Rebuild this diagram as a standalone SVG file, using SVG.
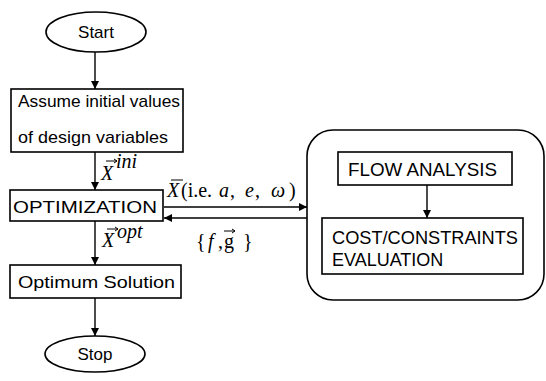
<svg xmlns="http://www.w3.org/2000/svg" width="546" height="381" viewBox="0 0 546 381">
<style>
.s{fill:none;stroke:#000;stroke-width:1.6}
.t{font-family:"Liberation Sans",Arial,sans-serif;font-size:17px;fill:#000}
.r{font-family:"Liberation Sans",Arial,sans-serif;font-size:18px;fill:#000}
.m{font-family:"Liberation Serif","Times New Roman",serif;font-size:20px;fill:#000}
.i{font-style:italic}
.c{stroke:#000;stroke-width:1.4;fill:none}
.v{stroke:#000;stroke-width:1;fill:none}
</style>
<defs>
<marker id="ah" viewBox="0 0 10 10" refX="10" refY="5" markerWidth="9" markerHeight="8" markerUnits="userSpaceOnUse" orient="auto">
<path d="M0,0 L10,5 L0,10 z" fill="#000"/>
</marker>
</defs>
<rect width="546" height="381" fill="#fff"/>
<g id="start">
<ellipse class="s" cx="96" cy="32" rx="50" ry="20"/>
<text class="t" x="96" y="38" text-anchor="middle">Start</text>
</g>
<g id="assume">
<rect class="s" x="11" y="89" width="172" height="63"/>
<text class="t" x="18" y="107" textLength="162" lengthAdjust="spacingAndGlyphs">Assume initial values</text>
<text class="t" x="18" y="143" textLength="150" lengthAdjust="spacingAndGlyphs">of design variables</text>
</g>
<g id="optimization">
<rect class="s" x="10" y="190" width="153" height="31"/>
<text class="t" x="13" y="213" textLength="144" lengthAdjust="spacingAndGlyphs">OPTIMIZATION</text>
</g>
<g id="optimum">
<rect class="s" x="10" y="265" width="171" height="33"/>
<text class="t" x="18" y="288" textLength="157" lengthAdjust="spacingAndGlyphs">Optimum Solution</text>
</g>
<g id="stop">
<ellipse class="s" cx="95" cy="354" rx="50" ry="18"/>
<text class="t" x="95" y="360" text-anchor="middle">Stop</text>
</g>
<g id="analysis">
<rect class="s" x="307" y="130" width="237" height="170" rx="26" ry="26"/>
<g id="flow">
<rect class="s" x="338" y="152" width="174" height="33"/>
<text class="r" x="348" y="176" textLength="149" lengthAdjust="spacingAndGlyphs">FLOW ANALYSIS</text>
</g>
<g id="cost">
<rect class="s" x="322" y="218" width="201" height="56"/>
<text class="r" x="332" y="244" textLength="186" lengthAdjust="spacingAndGlyphs">COST/CONSTRAINTS</text>
<text class="r" x="332" y="266">EVALUATION</text>
</g>
</g>
<g id="connectors">
<line class="c" x1="95" y1="52" x2="95" y2="89" marker-end="url(#ah)"/>
<line class="c" x1="95" y1="152" x2="95" y2="190" marker-end="url(#ah)"/>
<line class="c" x1="95" y1="221" x2="95" y2="265" marker-end="url(#ah)"/>
<line class="c" x1="95" y1="298" x2="95" y2="336" marker-end="url(#ah)"/>
<line class="c" x1="164" y1="207" x2="307" y2="207" marker-end="url(#ah)"/>
<line class="c" x1="307" y1="218" x2="164" y2="218" marker-end="url(#ah)"/>
<line class="c" x1="427" y1="185" x2="427" y2="218" marker-end="url(#ah)"/>
</g>
<g id="labels">
<text class="m i" x="101" y="180" font-size="21">X</text>
<text class="m i" x="116" y="168" font-size="9">ini</text>
<path class="v" d="M106,161 H117 M114,159 L117,161 L114,163"/>
<text class="m i" x="102" y="247" font-size="21">X</text>
<text class="m i" x="117" y="238" font-size="10">opt</text>
<path class="v" d="M107,229 H118 M115,227 L118,229 L115,231"/>
<text class="m" y="197"><tspan class="i" x="167">X</tspan><tspan x="181">(i.e.</tspan><tspan class="i" x="219">a</tspan><tspan x="230">,</tspan><tspan class="i" x="245">e</tspan><tspan x="255">,</tspan><tspan class="i" x="271">ω</tspan><tspan x="289">)</tspan></text>
<path class="v" d="M171,180 H183"/>
<text class="m" y="248" font-size="22"><tspan x="196">{</tspan><tspan class="i" x="208">f</tspan><tspan x="218">,</tspan><tspan x="224">g</tspan><tspan x="243">}</tspan></text>
<path class="v" d="M224,231 H235 M232,229 L235,231 L232,233"/>
</g>
</svg>
